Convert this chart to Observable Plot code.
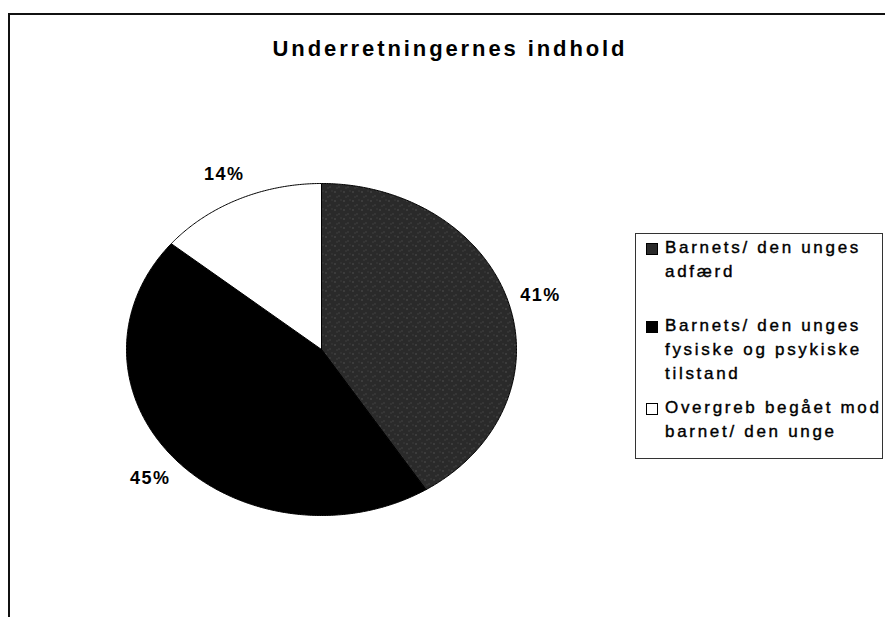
<!DOCTYPE html>
<html>
<head>
<meta charset="utf-8">
<script src="https://cdn.jsdelivr.net/npm/d3@7"></script>
<script src="https://cdn.jsdelivr.net/npm/@observablehq/plot@0.6"></script>
<style>
  body { margin: 0; background: #fff; font-family: "Liberation Sans", Arial, sans-serif; color: #000; }
  #wrap { position: relative; width: 885px; height: 617px; overflow: hidden; background: #fff; }
  #frame { position: absolute; left: 8px; top: 13px; width: 900px; height: 700px;
           border-left: 2px solid #111; border-top: 2px solid #111; box-sizing: border-box; }
  #chart { position: absolute; left: 0; top: 0; }
  #title { position: absolute; left: 200px; width: 500px; top: 38px; text-align: center;
           font-size: 22px; line-height: 22px; font-weight: bold; letter-spacing: 2.9px; }
  #legend { position: absolute; left: 635px; top: 233px; width: 248px; height: 226px;
            border: 1px solid #333; box-sizing: border-box; }
  .item { position: absolute; left: 29px; width: 222px; font-size: 17px; line-height: 24px;
          letter-spacing: 2.7px; -webkit-text-stroke: 0.4px #000; }
  .sw { position: absolute; left: -19px; top: 7px; width: 10px; height: 10px; border: 1px solid #000; }
</style>
</head>
<body>
<div id="wrap">
  <div id="frame"></div>
  <div id="chart"></div>
  <div id="title"></div>
  <div id="legend"></div>
</div>
<script>
// ---- data ----
const chartTitle = "Underretningernes indhold";
const categories = [
  "Barnets/ den unges adfærd",
  "Barnets/ den unges fysiske og psykiske tilstand",
  "Overgreb begået mod barnet/ den unge"
];
const shares = [41, 45, 14];

// ---- styling (separate from data) ----
const fills = ["url(#stipple)", "#000000", "#ffffff"];
const swatchFills = ["#2a2a2a", "#000000", "#ffffff"];
const legendTops = [2, 80, 162];

// ---- build slice outlines in unit-circle coordinates ----
const arcs = d3.pie().sort(null).value(d => d)(shares);
const pts = [];
arcs.forEach((a, i) => {
  const k = categories[i];
  pts.push({k, x: 0, y: 0});
  const n = Math.ceil((a.endAngle - a.startAngle) / (Math.PI / 360));
  for (let j = 0; j <= n; j++) {
    const t = a.startAngle + (a.endAngle - a.startAngle) * j / n;
    pts.push({k, x: Math.sin(t), y: Math.cos(t)});
  }
  pts.push({k, x: 0, y: 0});
});
const labels = arcs.map((a, i) => {
  const m = (a.startAngle + a.endAngle) / 2;
  const r = 1.17;
  return {x: r * Math.sin(m), y: r * Math.cos(m), t: shares[i] + "%"};
});

const svg = Plot.plot({
  width: 885,
  height: 617,
  margin: 0,
  x: {domain: [-1, 1], range: [126, 516], axis: null},
  y: {domain: [-1, 1], range: [515, 183], axis: null},
  color: {type: "ordinal", domain: categories, range: fills},
  style: {background: "transparent", fontFamily: "Liberation Sans, Arial, sans-serif", letterSpacing: "1.5px", color: "#000"},
  marks: [
    Plot.line(pts, {x: "x", y: "y", z: "k", fill: "k", stroke: "#000", strokeWidth: 1, curve: "linear"}),
    Plot.text(labels, {x: "x", y: "y", text: "t", fontSize: 18, fontWeight: "bold", fill: "#000"})
  ]
});

// stipple pattern for the first slice
const ns = "http://www.w3.org/2000/svg";
const defs = document.createElementNS(ns, "defs");
const pat = document.createElementNS(ns, "pattern");
pat.setAttribute("id", "stipple");
pat.setAttribute("patternUnits", "userSpaceOnUse");
pat.setAttribute("width", "9");
pat.setAttribute("height", "9");
const bg = document.createElementNS(ns, "rect");
bg.setAttribute("width", "9"); bg.setAttribute("height", "9"); bg.setAttribute("fill", "#2a2a2a");
pat.appendChild(bg);
[[1, 2, "#707070"], [5, 6, "#5a5a5a"], [7, 1, "#4a4a4a"], [3, 7, "#505050"]].forEach(([x, y, c]) => {
  const r = document.createElementNS(ns, "rect");
  r.setAttribute("x", x); r.setAttribute("y", y);
  r.setAttribute("width", "1"); r.setAttribute("height", "1"); r.setAttribute("fill", c);
  pat.appendChild(r);
});
defs.appendChild(pat);
svg.insertBefore(defs, svg.firstChild);

document.getElementById("chart").appendChild(svg);
document.getElementById("title").textContent = chartTitle;

const leg = document.getElementById("legend");
categories.forEach((c, i) => {
  const it = document.createElement("div");
  it.className = "item";
  it.style.top = legendTops[i] + "px";
  const sw = document.createElement("div");
  sw.className = "sw";
  sw.style.background = swatchFills[i];
  it.appendChild(sw);
  it.appendChild(document.createTextNode(c));
  leg.appendChild(it);
});
</script>
</body>
</html>
